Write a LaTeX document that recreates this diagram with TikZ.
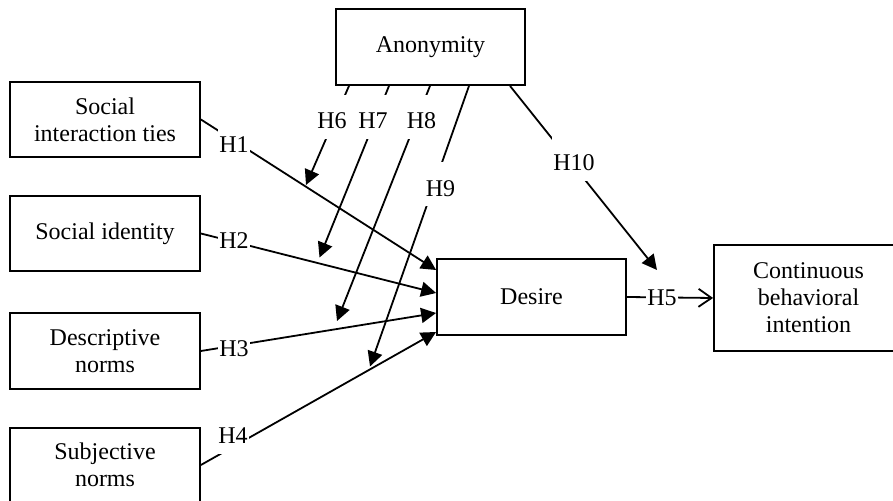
\documentclass[tikz,border=0pt]{standalone}
\usepackage{fontspec}
\setmainfont{Liberation Serif}
\usetikzlibrary{arrows.meta,calc}
\begin{document}
\begin{tikzpicture}[x=0.5pt,y=-0.5pt,
  every node/.style={font=\fontsize{12pt}{13.5pt}\selectfont},
  box/.style={draw,line width=0.9pt,inner sep=0pt,align=center,
    minimum width=95pt,minimum height=37.5pt},
  lbl/.style={fill=white,inner xsep=0.5pt,inner ysep=0pt,
    text height=17pt,text depth=5pt,anchor=base},
  link/.style={line width=0.9pt},
  arr/.style={link,-{Triangle[length=7.5pt,width=7.5pt]}},
  open/.style={link,-{Straight Barb[length=6.5pt,width=9pt]}}]
\useasboundingbox (0,0) rectangle (893,501);
\clip (0,0) rectangle (893,501);

% constructs
\node[box,minimum width=94.5pt,minimum height=38pt] (anon) at (430.5,47) {Anonymity};
\node[box] (sit) at (105,119.5) {Social\\interaction ties};
\node[box] (sid) at (105,233.5) {Social identity};
\node[box,minimum height=38pt] (dn) at (105,351) {Descriptive\\norms};
\node[box,minimum height=37pt] (sn) at (105,465) {Subjective\\norms};
\node[box,minimum width=94.5pt,minimum height=38pt] (desire) at (531.5,297) {Desire};
\node[box,minimum width=94.5pt,minimum height=53pt] (cbi) at (808.5,298) {Continuous\\behavioral\\intention};

% ends of the moderating arrows
\coordinate (m6) at (306,185);
\coordinate (m7) at (319.5,257.5);
\coordinate (m8) at (337,321);
\coordinate (m9) at (370,366.5);
\coordinate (m10) at (657,270);

% direct effects
\draw[arr] (sit.east) -- ($(desire.west)+(0,-27)$);
\draw[arr] (sid.east) -- ($(desire.west)+(0,-4)$);
\draw[arr] (dn.east) -- ($(desire.west)+(0,16)$);
\draw[arr] (sn.east) -- ($(desire.west)+(0,35)$);
\draw[open] (desire.east) -- (cbi.west);

% moderating effects of anonymity
\draw[arr] ($(anon.south)+(-81.5,0)$) -- (m6);
\draw[arr] ($(anon.south)+(-41.5,0)$) -- (m7);
\draw[arr] ($(anon.south)+(-0.5,0)$) -- (m8);
\draw[arr] ($(anon.south)+(38.5,0)$) -- (m9);
\draw[arr] ($(anon.south)+(79.5,0)$) -- (m10);

% hypothesis labels
\node[lbl] (l1) at (234,153) {H1};
\node[lbl] (l2) at (234,248.5) {H2};
\node[lbl] (l3) at (234,356.5) {H3};
\node[lbl] (l4) at (233,444) {H4};
\node[lbl] (l5) at (662,306) {H5};
\node[lbl] (l6) at (332,129) {H6};
\node[lbl] (l7) at (373,129) {H7};
\node[lbl] (l8) at (421.5,129) {H8};
\node[lbl] (l9) at (440.5,196.5) {H9};
\node[lbl] (l10) at (574,171) {H10};
\end{tikzpicture}
\end{document}
